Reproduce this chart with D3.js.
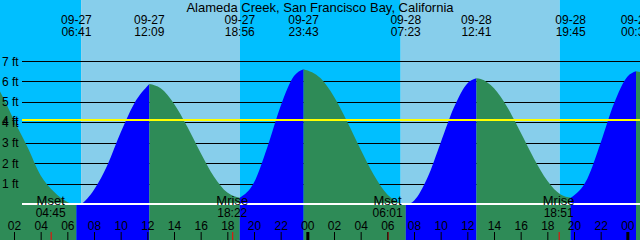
<!DOCTYPE html>
<html lang="en">
<head>
<meta charset="utf-8">
<style type="text/css">
    body { margin: 0; background: #fff; }
    svg { display: block; font-family: "Liberation Sans", Arial, sans-serif; font-size: 12px; }
    .grid { stroke: #000; stroke-width: 1px; }
    .lbl { fill: #000; }
</style>
</head>
<body>
<svg width="640" height="240"></svg>

<script src="https://d3js.org/d3.v7.min.js"></script>
<script type="text/javascript">
    // hours are counted from 09-27 00:00
    var title = "Alameda Creek, San Francisco Bay, California";

    var tideDates = ["09-27", "09-27", "09-27", "09-27", "09-28", "09-28", "09-28", "09-29"];
    var tideClock = ["06:41", "12:09", "18:56", "23:43", "07:23", "12:41", "19:45", "00:39"];
    var tideFeet = [-0.05, 5.87, 0.3, 6.6, -0.05, 6.15, 0.3, 6.5];

    // hourly heights, 09-27 00:00 .. 09-29 01:00
    var hourlyFeet = [6.4, 5.45, 4.1, 2.8, 1.4, 0.6, 0.1, 0.0, 0.7, 1.9, 3.5, 4.9, 5.85,
        5.66, 4.91, 3.78, 2.5, 1.34, 0.56, 0.31, 1.05, 2.78, 4.8, 6.26,
        6.58, 6.15, 5.25, 4.02, 2.67, 1.41, 0.47, 0.03, 0.16, 1.27, 3.0, 4.73, 5.9,
        6.12, 5.66, 4.73, 3.5, 2.22, 1.14, 0.46, 0.34, 1.24, 3.0, 4.92, 6.23, 6.45];

    var sunrise = ["09-27 07:02", "09-28 07:00"];
    var sunset = ["09-27 18:57", "09-28 18:56"];

    var moonNames = ["Mset", "Mrise", "Mset", "Mrise"];
    var moonDates = ["09-27", "09-27", "09-28", "09-28"];
    var moonClock = ["04:45", "18:22", "06:01", "18:51"];

    var feetTicks = [1, 2, 3, 4, 5, 6, 7];
    var meanFeet = 4.1;

    function toHours(date, clock) {
        var day = +date.split("-")[1];
        var hm = clock.split(":");
        return (day - 27) * 24 + (+hm[0]) + (+hm[1]) / 60;
    }

    var svg = d3.select("svg"),
        width = +svg.attr("width"),
        height = +svg.attr("height");

    var x = d3.scaleLinear().domain([0.95, 48.95]).range([0, width]);
    var y = d3.scaleLinear().domain([0, 7]).range([204, 61]);
    var gridLeft = 22;

    // day / night bands
    var rises = sunrise.map(function (s) { return toHours(s.split(" ")[0], s.split(" ")[1]); });
    var sets = sunset.map(function (s) { return toHours(s.split(" ")[0], s.split(" ")[1]); });
    var bands = [];
    var start = x.domain()[0], end = x.domain()[1];
    bands.push({a: start, b: rises[0], night: true});
    for (var i = 0; i < rises.length; i++) {
        bands.push({a: rises[i], b: sets[i], night: false});
        bands.push({a: sets[i], b: i + 1 < rises.length ? rises[i + 1] : end, night: true});
    }
    svg.selectAll(".band").data(bands).enter().append("rect")
        .attr("class", "band")
        .attr("x", function (d) { return x(d.a); })
        .attr("width", function (d) { return x(d.b) - x(d.a); })
        .attr("y", 0).attr("height", height)
        .attr("fill", function (d) { return d.night ? "#00BFFF" : "#87CEEB"; });

    // grid lines (behind the water)
    svg.selectAll(".grid").data(feetTicks).enter().append("line")
        .attr("class", "grid")
        .attr("x1", gridLeft).attr("x2", width)
        .attr("y1", function (d) { return Math.round(y(d)) + 0.5; })
        .attr("y2", function (d) { return Math.round(y(d)) + 0.5; });

    // tide curve, split at the extremes into rising / falling pieces
    var extremes = tideFeet.map(function (f, i) {
        return {h: toHours(tideDates[i], tideClock[i]), ft: f};
    });
    var pts = hourlyFeet.map(function (f, i) { return {h: i, ft: f}; })
        .filter(function (p) {
            return !extremes.some(function (e) { return Math.abs(e.h - p.h) < 0.3; });
        })
        .concat(extremes)
        .sort(function (a, b) { return a.h - b.h; });

    var cuts = [-1].concat(extremes.map(function (e) { return e.h; })).concat([99]);
    var pieces = [];
    for (var k = 0; k < cuts.length - 1; k++) {
        var seg = pts.filter(function (p) { return p.h >= cuts[k] && p.h <= cuts[k + 1]; });
        if (seg.length < 2) continue;
        pieces.push({pts: seg, rising: seg[seg.length - 1].ft > seg[0].ft});
    }

    var area = d3.area()
        .curve(d3.curveMonotoneX)
        .x(function (d) { return x(d.h); })
        .y0(height)
        .y1(function (d) { return y(d.ft); });

    svg.selectAll(".tide").data(pieces).enter().append("path")
        .attr("class", "tide")
        .attr("d", function (d) { return area(d.pts); })
        .attr("fill", function (d) { return d.rising ? "#0000FF" : "#2E8B57"; });

    // zero line and mean line
    svg.append("line")
        .attr("x1", gridLeft).attr("x2", width)
        .attr("y1", Math.round(y(0))).attr("y2", Math.round(y(0)))
        .attr("stroke", "#fff").attr("stroke-width", 2);
    svg.append("line")
        .attr("x1", gridLeft).attr("x2", width)
        .attr("y1", Math.round(y(meanFeet))).attr("y2", Math.round(y(meanFeet)))
        .attr("stroke", "#FFFF00").attr("stroke-width", 2);

    // feet labels
    svg.selectAll(".ftlbl").data(feetTicks.concat([meanFeet])).enter().append("text")
        .attr("class", "lbl ftlbl")
        .attr("x", 2)
        .attr("y", function (d) { return y(d) + 4.5; })
        .text(function (d) { return Math.round(d) + " ft"; });

    // title
    svg.append("text").attr("class", "lbl")
        .attr("x", width / 2).attr("y", 12)
        .attr("text-anchor", "middle")
        .style("font-size", "13px")
        .text(title);

    // high / low time labels
    var tl = svg.selectAll(".tidelbl").data(extremes).enter().append("g")
        .attr("class", "tidelbl")
        .attr("transform", function (d) { return "translate(" + x(d.h) + ",0)"; });
    tl.append("text").attr("class", "lbl").attr("text-anchor", "middle").attr("y", 24)
        .text(function (d, i) { return tideDates[i]; });
    tl.append("text").attr("class", "lbl").attr("text-anchor", "middle").attr("y", 36)
        .text(function (d, i) { return tideClock[i]; });

    // moon events
    var moon = moonNames.map(function (n, i) {
        return {name: n, clock: moonClock[i], h: toHours(moonDates[i], moonClock[i])};
    });
    var ml = svg.selectAll(".moon").data(moon).enter().append("g")
        .attr("class", "moon")
        .attr("transform", function (d) { return "translate(" + x(d.h) + ",0)"; });
    ml.append("text").attr("class", "lbl").attr("text-anchor", "middle").attr("y", 205)
        .style("font-size", "13px")
        .text(function (d) { return d.name; });
    ml.append("text").attr("class", "lbl").attr("text-anchor", "middle").attr("y", 217)
        .text(function (d) { return d.clock; });
    ml.append("line")
        .attr("x1", 0.5).attr("x2", 0.5)
        .attr("y1", 232).attr("y2", height)
        .attr("stroke", "#FF0000");

    // hour axis
    var axis = d3.axisTop(x)
        .tickValues(d3.range(2, 49, 2))
        .tickSize(8)
        .tickPadding(2)
        .tickFormat(function (h) { return d3.format("02")(h % 24); });

    var ax = svg.append("g")
        .attr("transform", "translate(0," + height + ")")
        .call(axis);
    ax.select(".domain").remove();
    ax.attr("font-family", null).attr("font-size", null);
    ax.selectAll(".tick line")
        .attr("stroke", "#000")
        .attr("stroke-width", function (h) { return h % 24 === 0 ? 3 : 1; });
    ax.selectAll(".tick text").attr("fill", "#000");
</script>
</body>
</html>
